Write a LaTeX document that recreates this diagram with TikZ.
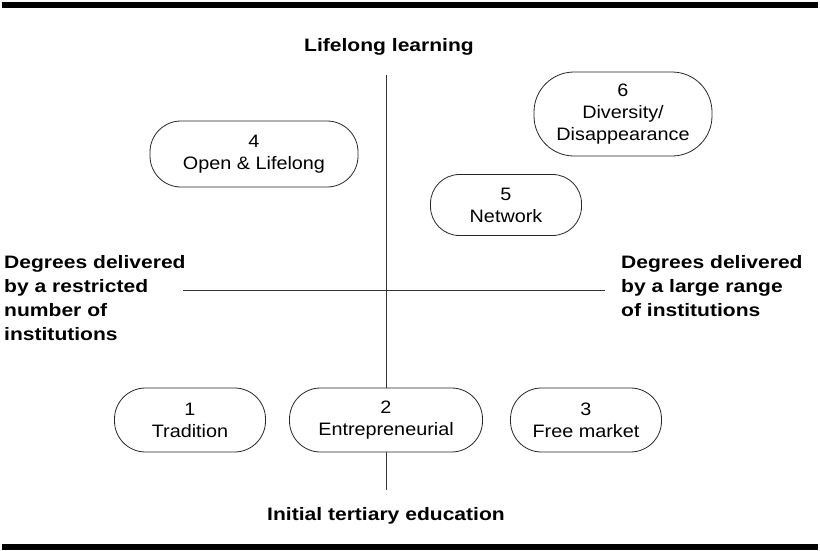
\documentclass[tikz,border=0pt]{standalone}
\usepackage{fontspec}
\setmainfont{Liberation Sans}
\newfontfamily\labfont{Liberation Sans}[FakeStretch=1.17]
\newfontfamily\scenfont{Liberation Sans}[FakeStretch=1.1]
\begin{document}
\begin{tikzpicture}[x=1pt,y=-1pt,
  scen/.style={draw=black!85,line width=0.8pt,rounded corners=31pt,align=center,font=\scenfont\fontsize{18}{22}\selectfont,inner sep=0pt},
  axis/.style={draw=black!80,line width=0.8pt},
  lab/.style={font=\labfont\bfseries\fontsize{18}{24}\selectfont,inner sep=0pt},
  bar/.style={fill=black}]
\useasboundingbox (0,0) rectangle (820,550);
\fill[bar] (2,2) rectangle (818,7.5);
\fill[bar] (2,544) rectangle (818,550);
\coordinate (vt) at (386,75);
\coordinate (vb) at (386,490);
\coordinate (hl) at (183,290);
\coordinate (hr) at (605,290);
\draw[axis] (vt) -- (vb);
\draw[axis] (hl) -- (hr);
\node[lab] (top) at (389,47) {Lifelong learning};
\node[lab] (bot) at (386,516) {Initial tertiary education};
\node[lab,anchor=north west,align=left] (left) at (4,255) {Degrees delivered\\by a restricted\\number of\\institutions};
\node[lab,anchor=north west,align=left] (right) at (621,255) {Degrees delivered\\by a large range\\of institutions};
\node[scen,minimum width=208pt,minimum height=66pt] (s4) at (254,154) {4\\Open \& Lifelong};
\node[scen,minimum width=151pt,minimum height=61pt,rounded corners=29pt] (s5) at (506,205) {5\\Network};
\node[scen,minimum width=178pt,minimum height=84pt,rounded corners=40pt] (s6) at (623,114) {6\\Diversity/\\Disappearance};
\node[scen,minimum width=151pt,minimum height=64pt] (s1) at (190,420) {1\\Tradition};
\node[scen,minimum width=193pt,minimum height=64pt,fill=white] (s2) at (386,420) {2\\Entrepreneurial};
\node[scen,minimum width=151pt,minimum height=64pt] (s3) at (586,420) {3\\Free market};
\end{tikzpicture}
\end{document}
